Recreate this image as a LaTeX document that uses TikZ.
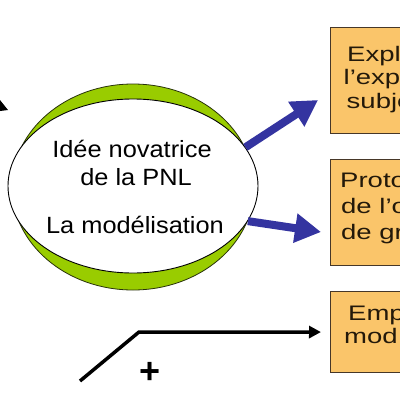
\documentclass[tikz,border=0pt]{standalone}
\usepackage{fontspec}
\setmainfont{Liberation Sans}
\usetikzlibrary{shapes.geometric,arrows.meta}
\definecolor{leaf}{RGB}{153,204,0}
\definecolor{leafline}{RGB}{40,50,10}
\definecolor{navyarrow}{RGB}{52,52,160}
\definecolor{boxfill}{RGB}{250,197,106}
\definecolor{boxline}{RGB}{70,55,40}
\definecolor{boxtext}{RGB}{35,25,10}
\begin{document}
\begin{tikzpicture}[x=1pt,y=-1pt,
  outerell/.style={ellipse, draw=leafline, line width=0.8pt, fill=leaf,
    minimum width=242pt, minimum height=206pt, inner sep=0pt},
  innerell/.style={ellipse, draw=black, line width=0.9pt, fill=white,
    minimum width=250pt, minimum height=174pt, inner sep=0pt},
  etext/.style={anchor=base, inner sep=0pt, text=black,
    font=\fontsize{23.5}{28}\selectfont},
  btext/.style={anchor=base west, inner sep=0pt, text=boxtext,
    font=\fontsize{21}{25}\selectfont},
  boxnode/.style={rectangle, draw=boxline, line width=1.1pt, fill=boxfill,
    anchor=north west, inner sep=0pt, minimum width=100pt},
  bluearrow/.style={draw=navyarrow, line width=8pt,
    -{Triangle[length=26pt,width=28pt]}},
  blackarrow/.style={draw=black, line width=3.5pt, line join=miter,
    -{Triangle[length=12pt,width=12pt]}}]
\useasboundingbox (0,0) rectangle (400,400);
\clip (0,0) rectangle (400,400);
\fill[white] (0,0) rectangle (400,400);

% arrow fragment at top left
\fill[black] (0,100) -- (8,110) -- (0,111) -- cycle;

% ellipse
\node[outerell] (green) at (133,187) {};
\node[innerell] (ell) at (133,186) {};
\node[etext] (l1) at (132,157) {\scalebox{1.08}[1]{Idée novatrice}};
\node[etext] (l2) at (136,185) {\scalebox{1.08}[1]{de la PNL}};
\node[etext] (l3) at (135,233) {\scalebox{1.08}[1]{La modélisation}};

% boxes
\node[boxnode, minimum height=106pt] (b1) at (330,27) {};
\node[boxnode, minimum height=106pt] (b2) at (330,159) {};
\node[boxnode, minimum height=81pt] (b3) at (330,291) {};

\node[btext] (b1a) at (347,61) {\scalebox{1.31}[1]{Expl}};
\node[btext] (b1b) at (343.5,84) {\scalebox{1.31}[1]{l’exp}};
\node[btext] (b1c) at (346.5,108) {\scalebox{1.31}[1]{subje}};

\node[btext] (b2a) at (340,187) {\scalebox{1.31}[1]{Proto}};
\node[btext] (b2b) at (341,213) {\scalebox{1.31}[1]{de l’o}};
\node[btext] (b2c) at (341,239) {\scalebox{1.31}[1]{de gr}};

\node[btext] (b3a) at (348,320) {\scalebox{1.31}[1]{Emp}};
\node[btext] (b3b) at (344,343) {\scalebox{1.31}[1]{mod}};

% blue arrows
\coordinate (tip1) at (318,100);
\coordinate (tip2) at (321,232);
\draw[bluearrow] (ell.19) -- (tip1);
\draw[bluearrow] (ell.-17) -- (tip2);

% black arrow
\coordinate (start) at (80,381);
\coordinate (knee) at (139,332);
\draw[blackarrow] (start) -- (knee) -- ([xshift=-9pt]b3.west);
\node[font=\fontsize{36}{36}\selectfont\bfseries, inner sep=0pt] (plus) at (150,373) {+};
\end{tikzpicture}
\end{document}
